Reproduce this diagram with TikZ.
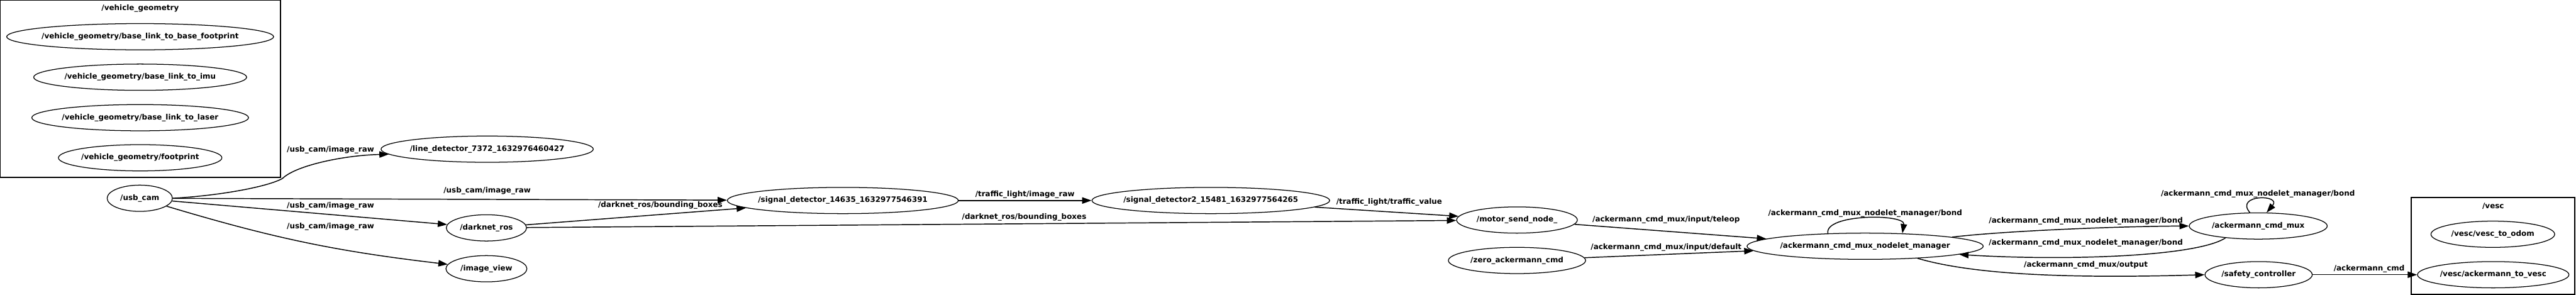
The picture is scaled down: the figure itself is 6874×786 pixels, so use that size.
\documentclass[tikz,border=0pt]{standalone}
\usepackage{fontspec}
\setmainfont{DejaVu Sans}
\usetikzlibrary{shapes.geometric,arrows.meta}
\begin{document}
\begin{tikzpicture}[x=0.01cm, y=0.01cm,
		every node/.style={font=\bfseries\fontsize{5.7pt}{6.8pt}\selectfont},
		nodo/.style={ellipse, draw=black, line width=0.6pt, minimum height=0.7cm, inner ysep=0pt, inner xsep=-2cm},
		arista/.style={draw=black, line width=0.7pt, -{Triangle[length=0.25cm,width=0.17cm]}},
		grupo/.style={draw=black, line width=0.8pt},
		etiqueta/.style={inner sep=0pt}]
	\useasboundingbox (0,0) rectangle (6874,786);
	% grupos
	\draw[grupo] (0,786) rectangle (748,313);
	\node[etiqueta] (tvg) at (374,763) {/vehicle\_geometry};
	\draw[grupo] (6434,259) rectangle (6871,1);
	\node[etiqueta] (tvesc) at (6653,236) {/vesc};
	% nodos
	\node[nodo, minimum width=7.12cm] (vgbf) at (374,688) {/vehicle\_geometry/base\_link\_to\_base\_footprint};
	\node[nodo, minimum width=5.68cm] (vgimu) at (374,580) {/vehicle\_geometry/base\_link\_to\_imu};
	\node[nodo, minimum width=5.78cm] (vglaser) at (374,472) {/vehicle\_geometry/base\_link\_to\_laser};
	\node[nodo, minimum width=4.36cm] (vgfp) at (374,365) {/vehicle\_geometry/footprint};
	\node[nodo, minimum width=1.74cm] (usb) at (373,257) {/usb\_cam};
	\node[nodo, minimum width=5.66cm] (line) at (1300,388) {/line\_detector\_7372\_1632976460427};
	\node[nodo, minimum width=2.14cm] (darknet) at (1298,178) {/darknet\_ros};
	\node[nodo, minimum width=2.16cm] (imgview) at (1298,69) {/image\_view};
	\node[nodo, minimum width=6.16cm] (sd) at (2249,251) {/signal\_detector\_14635\_1632977546391};
	\node[nodo, minimum width=6.34cm] (sdb) at (3231,251) {/signal\_detector2\_15481\_1632977564265};
	\node[nodo, minimum width=3.22cm] (motor) at (4048,199) {/motor\_send\_node\_};
	\node[nodo, minimum width=3.66cm] (zero) at (4048,91) {/zero\_ackermann\_cmd};
	\node[nodo, minimum width=6.30cm] (manager) at (4977,129) {/ackermann\_cmd\_mux\_nodelet\_manager};
	\node[nodo, minimum width=3.68cm] (mux) at (6026,183) {/ackermann\_cmd\_mux};
	\node[nodo, minimum width=2.86cm] (safety) at (6027,53) {/safety\_controller};
	\node[nodo, minimum width=3.30cm] (odom) at (6652,161) {/vesc/vesc\_to\_odom};
	\node[nodo, minimum width=4.04cm] (ackvesc) at (6653,53) {/vesc/ackermann\_to\_vesc};
	% aristas
	\draw[arista] (usb.east) .. controls (600,265) and (720,290) .. (754,310)
		.. controls (790,345) and (920,372) .. (line.183);
	\draw[arista] (usb) -- (sd);
	\draw[arista] (usb) -- (darknet);
	\draw[arista] (usb) to[bend right=5] (imgview);
	\draw[arista] (darknet) -- (sd);
	\draw[arista] (darknet) -- (motor);
	\draw[arista] (sd) -- (sdb);
	\draw[arista] (sdb) -- (motor);
	\draw[arista] (motor) -- (manager);
	\draw[arista] (zero) -- (manager);
	\draw[arista] (manager.161) .. controls (4868,216) and (5085,216) .. (manager.19);
	\draw[arista] (manager.6) .. controls (5350,170) and (5650,182) .. (mux.west);
	\draw[arista] (mux.200) .. controls (5860,100) and (5500,90) .. (manager.355);
	\draw[arista] (manager.347) .. controls (5260,55) and (5500,42) .. (safety.west);
	\draw[arista] (mux.122) .. controls (5962,268) and (6090,268) .. (mux.58);
	\draw[arista] (safety) -- (ackvesc);
	% etiquetas
	\node[etiqueta] (e1) at (882,386) {/usb\_cam/image\_raw};
	\node[etiqueta] (e2) at (1300,277) {/usb\_cam/image\_raw};
	\node[etiqueta] (e3) at (882,237) {/usb\_cam/image\_raw};
	\node[etiqueta] (e4) at (882,181) {/usb\_cam/image\_raw};
	\node[etiqueta] (e5) at (1762,239) {/darknet\_ros/bounding\_boxes};
	\node[etiqueta] (e6) at (2733,206) {/darknet\_ros/bounding\_boxes};
	\node[etiqueta] (e7) at (2735,266) {/traffic\_light/image\_raw};
	\node[etiqueta] (e8) at (3707,246) {/traffic\_light/traffic\_value};
	\node[etiqueta] (e9) at (4446,199) {/ackermann\_cmd\_mux/input/teleop};
	\node[etiqueta] (e10) at (4446,126) {/ackermann\_cmd\_mux/input/default};
	\node[etiqueta] (e11) at (4977,216) {/ackermann\_cmd\_mux\_nodelet\_manager/bond};
	\node[etiqueta] (e12) at (5566,196) {/ackermann\_cmd\_mux\_nodelet\_manager/bond};
	\node[etiqueta] (e13) at (5566,138) {/ackermann\_cmd\_mux\_nodelet\_manager/bond};
	\node[etiqueta] (e14) at (5566,78) {/ackermann\_cmd\_mux/output};
	\node[etiqueta] (e15) at (6025,269) {/ackermann\_cmd\_mux\_nodelet\_manager/bond};
	\node[etiqueta] (e16) at (6322,68) {/ackermann\_cmd};
\end{tikzpicture}
\end{document}
